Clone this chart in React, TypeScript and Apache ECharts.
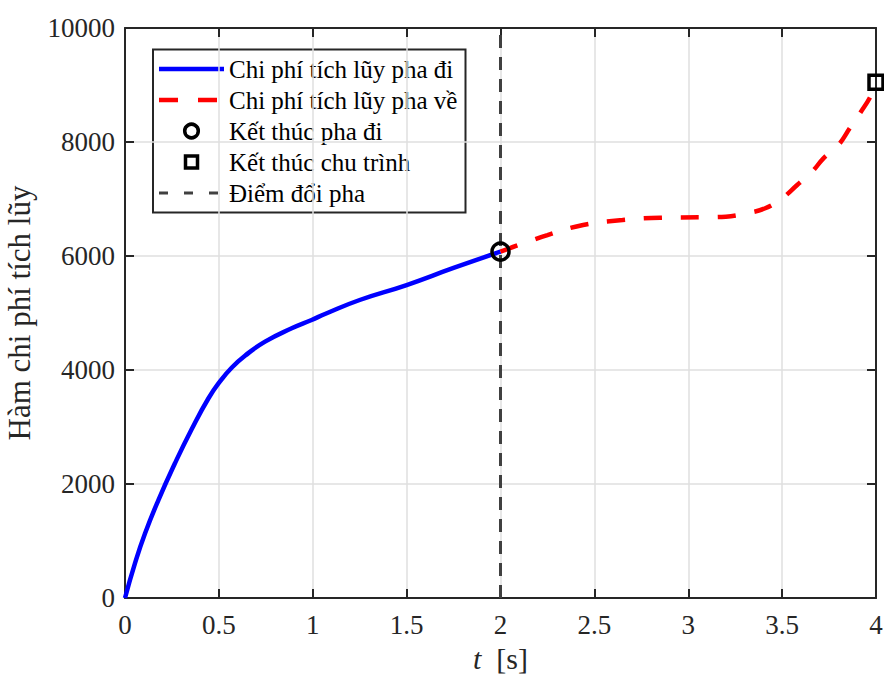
import React, { useEffect, useRef } from "react";
import * as echarts from "echarts";

// Forward phase (blue)
const tOut = [0, 0.053, 0.107, 0.178, 0.266, 0.355, 0.444, 0.506, 0.568, 0.639, 0.746, 0.888, 0.994, 1.065, 1.25, 1.5, 1.75, 2.0];
const costOut = [0, 608, 1135, 1719, 2363, 2960, 3500, 3800, 4040, 4250, 4497, 4731, 4877, 4982, 5228, 5491, 5790, 6076];
// Return phase (red)
const tBack = [2.0, 2.25, 2.44, 2.65, 2.85, 3.06, 3.2, 3.31, 3.41, 3.5, 3.58, 3.66, 3.72, 3.8, 3.86, 3.92, 3.97, 4.0];
const costBack = [6076, 6368, 6544, 6632, 6672, 6679, 6690, 6749, 6837, 7012, 7246, 7479, 7714, 7947, 8240, 8532, 8795, 9050];
// Markers
const endOut = [2.0, 6076];
const endCycle = [4.0, 9050];
const switchT = 2.0;

const xTicks = { min: 0, max: 4, interval: 0.5 };
const yTicks = { min: 0, max: 10000, interval: 2000 };

const names = [
  "Chi phí tích lũy pha đi",
  "Chi phí tích lũy pha về",
  "Kết thúc pha đi",
  "Kết thúc chu trình",
  "Điểm đổi pha",
];
const yLabel = "Hàm chi phí tích lũy";

const FONT = "Liberation Serif";
const AX = "#262626";

export default function App() {
  const ref = useRef<HTMLDivElement>(null);
  useEffect(() => {
    if (!ref.current) return;
    const chart = echarts.init(ref.current, undefined, { renderer: "svg" });
    const axisCommon = {
      axisLine: { show: true, onZero: false, lineStyle: { color: AX, width: 2 } },
      axisTick: { show: true, inside: true, length: 9, lineStyle: { color: AX, width: 2 } },
    };
    const lx = 159, lx2 = 224, tx = 229, rows = [69, 100, 131, 162, 193];
    const textStyle = (i: number) => ({
      type: "text",
      x: tx,
      y: rows[i],
      style: { text: names[i], fontSize: 25, fontFamily: FONT, fill: "#000", verticalAlign: "middle" },
    });
    chart.setOption({
      animation: false,
      backgroundColor: "#fff",
      grid: { left: 125, right: 8, top: 28, bottom: 76, containLabel: false, outerBoundsMode: "none" },
      xAxis: [
        {
          type: "value",
          ...xTicks,
          ...axisCommon,
          position: "bottom",
          axisLabel: { fontFamily: FONT, fontSize: 27, color: AX, margin: 13 },
          splitLine: { show: true, lineStyle: { color: "#dfdfdf", width: 1.5 } },
          name: "{i|t}{n|  [s]}",
          nameLocation: "middle",
          nameGap: 45,
          nameTextStyle: {
            fontFamily: FONT,
            fontSize: 30,
            color: AX,
            rich: {
              i: { fontStyle: "italic", fontFamily: FONT, fontSize: 30, color: AX },
              n: { fontFamily: FONT, fontSize: 30, color: AX },
            },
          },
        },
        {
          type: "value",
          ...xTicks,
          ...axisCommon,
          position: "top",
          axisLabel: { show: false },
          splitLine: { show: false },
        },
      ],
      yAxis: [
        {
          type: "value",
          ...yTicks,
          ...axisCommon,
          position: "left",
          axisLabel: { fontFamily: FONT, fontSize: 27, color: AX, margin: 10, formatter: (v: number) => String(v) },
          splitLine: { show: true, lineStyle: { color: "#dfdfdf", width: 1.5 } },
          name: yLabel,
          nameLocation: "middle",
          nameGap: 90,
          nameTextStyle: { fontFamily: FONT, fontSize: 31, color: AX },
        },
        {
          type: "value",
          ...yTicks,
          ...axisCommon,
          position: "right",
          axisLabel: { show: false },
          splitLine: { show: false },
        },
      ],
      series: [
        {
          name: names[4],
          type: "line",
          data: [[switchT, yTicks.min], [switchT, yTicks.max]],
          showSymbol: false,
          lineStyle: { color: "#404040", width: 3, type: [13, 9] },
          z: 1,
        },
        {
          name: names[0],
          type: "line",
          data: tOut.map((t, i) => [t, costOut[i]]),
          smooth: 0.5,
          showSymbol: false,
          lineStyle: { color: "#0000ff", width: 4.5 },
          z: 2,
        },
        {
          name: names[1],
          type: "line",
          data: tBack.map((t, i) => [t, costBack[i]]),
          smooth: 0.4,
          showSymbol: false,
          lineStyle: { color: "#ff0000", width: 4.5, type: [18, 19] },
          z: 3,
        },
        {
          name: names[2],
          type: "scatter",
          data: [endOut],
          symbol: "circle",
          symbolSize: 17,
          itemStyle: { color: "rgba(0,0,0,0)", borderColor: "#000", borderWidth: 3.5, opacity: 1 },
          z: 10,
        },
        {
          name: names[3],
          type: "scatter",
          data: [endCycle],
          symbol: "rect",
          symbolSize: 14,
          clip: false,
          itemStyle: { color: "rgba(0,0,0,0)", borderColor: "#000", borderWidth: 3.5, opacity: 1 },
          z: 10,
        },
      ],
      graphic: [
        {
          type: "group",
          z: 100,
          children: [
            {
              type: "rect",
              shape: { x: 153, y: 49.5, width: 312.5, height: 163 },
              style: { fill: "#fff", stroke: AX, lineWidth: 2 },
            },
            { type: "line", shape: { x1: lx, y1: rows[0], x2: lx2, y2: rows[0] }, style: { stroke: "#0000ff", lineWidth: 4.5 } },
            { type: "line", shape: { x1: lx, y1: rows[1], x2: lx2, y2: rows[1] }, style: { stroke: "#ff0000", lineWidth: 4.5, lineDash: [19, 20] } },
            { type: "circle", shape: { cx: 191.5, cy: rows[2], r: 6.8 }, style: { fill: "none", stroke: "#000", lineWidth: 3.5 } },
            { type: "rect", shape: { x: 185.5, y: rows[3] - 6, width: 12, height: 12 }, style: { fill: "none", stroke: "#000", lineWidth: 3.5 } },
            { type: "line", shape: { x1: lx, y1: rows[4], x2: lx2, y2: rows[4] }, style: { stroke: "#404040", lineWidth: 3, lineDash: [9, 16] } },
            textStyle(0),
            textStyle(1),
            textStyle(2),
            textStyle(3),
            textStyle(4),
          ],
        },
      ],
    });
    return () => chart.dispose();
  }, []);
  return (
    <div
      ref={ref}
      style={{ position: "fixed", left: 0, top: 0, width: 884, height: 674, background: "#fff" }}
    />
  );
}
